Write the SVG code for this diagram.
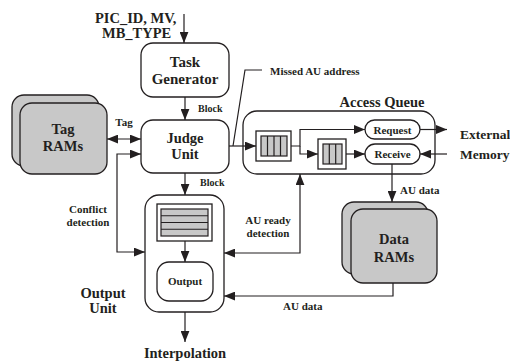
<svg xmlns="http://www.w3.org/2000/svg" width="510" height="363" viewBox="0 0 510 363">
<style>
text{font-family:"Liberation Serif","Times New Roman",serif;font-weight:bold;fill:#231f20}
.b{font-size:14.5px}
.s{font-size:11px}
.m{font-size:10px}
.c{text-anchor:middle}
.box{fill:#fff;stroke:#231f20;stroke-width:1.3}
.ram{fill:#c8c8c8;stroke:#231f20;stroke-width:1.3}
.g{fill:#c8c8c8;stroke:#231f20;stroke-width:1.2}
.ln{fill:none;stroke:#231f20;stroke-width:1.2}
.w{fill:none;stroke:#231f20;stroke-width:1.2}
</style>
<defs>
<marker id="ah" markerUnits="userSpaceOnUse" markerWidth="11" markerHeight="9" refX="10" refY="4" orient="auto-start-reverse" viewBox="0 0 10 8">
<path d="M0,0 L10,4 L0,8 z" fill="#231f20"/>
</marker>
</defs>
<rect width="510" height="363" fill="#fff"/>

<g id="input-label">
<text class="b" x="95" y="23">PIC_ID, MV,</text>
<text class="b" x="102" y="38">MB_TYPE</text>
</g>

<g id="task-generator">
<rect class="box" x="141" y="43" width="88" height="54" rx="12"/>
<text class="b c" x="185" y="67" style="font-size:15px">Task</text>
<text class="b c" x="185" y="84" style="font-size:15px">Generator</text>
</g>

<g id="judge-unit">
<rect class="box" x="141" y="120" width="88" height="53" rx="12"/>
<text class="b c" x="185" y="143">Judge</text>
<text class="b c" x="185" y="159">Unit</text>
</g>

<g id="tag-rams">
<rect class="ram" x="12" y="95" width="87" height="71" rx="12"/>
<rect class="ram" x="20" y="103" width="87" height="71" rx="12"/>
<text class="b c" x="63" y="134">Tag</text>
<text class="b c" x="63" y="151">RAMs</text>
</g>

<g id="access-queue">
<rect class="box" x="243" y="111" width="192" height="63" rx="14"/>
<text class="b c" x="382" y="107">Access Queue</text>
<rect class="box" x="256" y="131" width="35" height="30"/>
<rect class="g" x="261" y="136" width="26" height="20"/>
<path class="w" d="M267.5,136 V156 M274,136 V156 M280.5,136 V156"/>
<rect class="box" x="318" y="139" width="28" height="30"/>
<rect class="g" x="323" y="144" width="19" height="20"/>
<path class="w" d="M329.3,144 V164 M335.7,144 V164"/>
<rect class="box" x="365" y="120" width="55" height="19" rx="9.5"/>
<text class="s c" x="392.5" y="133.5">Request</text>
<rect class="box" x="365" y="144" width="55" height="20" rx="10"/>
<text class="s c" x="392.5" y="158">Receive</text>
</g>

<g id="external-memory">
<text class="b" x="460" y="139" style="font-size:13.5px">External</text>
<text class="b" x="460" y="159" style="font-size:13.5px">Memory</text>
</g>

<g id="data-rams">
<rect class="ram" x="342" y="202" width="86" height="72" rx="12"/>
<rect class="ram" x="351" y="209" width="86" height="74" rx="12"/>
<text class="b c" x="394" y="244">Data</text>
<text class="b c" x="394" y="262">RAMs</text>
</g>

<g id="output-unit">
<rect class="box" x="145" y="195" width="79" height="117" rx="14"/>
<rect class="box" x="157" y="204" width="55" height="37"/>
<rect class="g" x="161" y="209" width="47" height="27"/>
<path class="w" d="M161,215.75 H208 M161,222.5 H208 M161,229.25 H208"/>
<rect class="box" x="157" y="262" width="56" height="39" rx="12"/>
<text class="s c" x="185" y="285">Output</text>
<text class="b c" x="103" y="298">Output</text>
<text class="b c" x="103" y="313">Unit</text>
</g>

<g id="connectors">
<path class="ln" d="M184,14 V43" marker-end="url(#ah)"/>
<path class="ln" d="M185,97 V120" marker-end="url(#ah)"/>
<path class="ln" d="M107,139 H141" marker-start="url(#ah)" marker-end="url(#ah)"/>
<path class="ln" d="M141,154 H117 V252 H145" marker-start="url(#ah)" marker-end="url(#ah)"/>
<path class="ln" d="M185,173 V195" marker-end="url(#ah)"/>
<path class="ln" d="M185,241 V262" marker-end="url(#ah)"/>
<path class="ln" d="M185,312 V342" marker-end="url(#ah)"/>
<path class="ln" d="M229,146 H256" marker-end="url(#ah)"/>
<path class="ln" d="M233,146 L245,70 H262"/>
<path class="ln" d="M291,146 H300 V129.5 H365" marker-end="url(#ah)"/>
<path class="ln" d="M300,146 V154 H318" marker-end="url(#ah)"/>
<path class="ln" d="M346,154 H365" marker-end="url(#ah)"/>
<path class="ln" d="M420,129.5 H447" marker-end="url(#ah)"/>
<path class="ln" d="M447,154 H420" marker-end="url(#ah)"/>
<path class="ln" d="M392,164 V202" marker-end="url(#ah)"/>
<path class="ln" d="M224,253 H300 V174" marker-start="url(#ah)" marker-end="url(#ah)"/>
<path class="ln" d="M393,283 V296 H224" marker-end="url(#ah)"/>
</g>

<g id="labels">
<text class="m" x="198" y="112">Block</text>
<text class="m" x="200" y="186">Block</text>
<text class="s c" x="124" y="126">Tag</text>
<text class="s" x="270" y="75">Missed AU address</text>
<text class="s c" x="88" y="213">Conflict</text>
<text class="s c" x="88" y="226">detection</text>
<text class="s c" x="268" y="224">AU ready</text>
<text class="s c" x="268" y="237">detection</text>
<text class="s" x="400" y="194">AU data</text>
<text class="s" x="283" y="310">AU data</text>
<text class="b c" x="185" y="358">Interpolation</text>
</g>
</svg>
